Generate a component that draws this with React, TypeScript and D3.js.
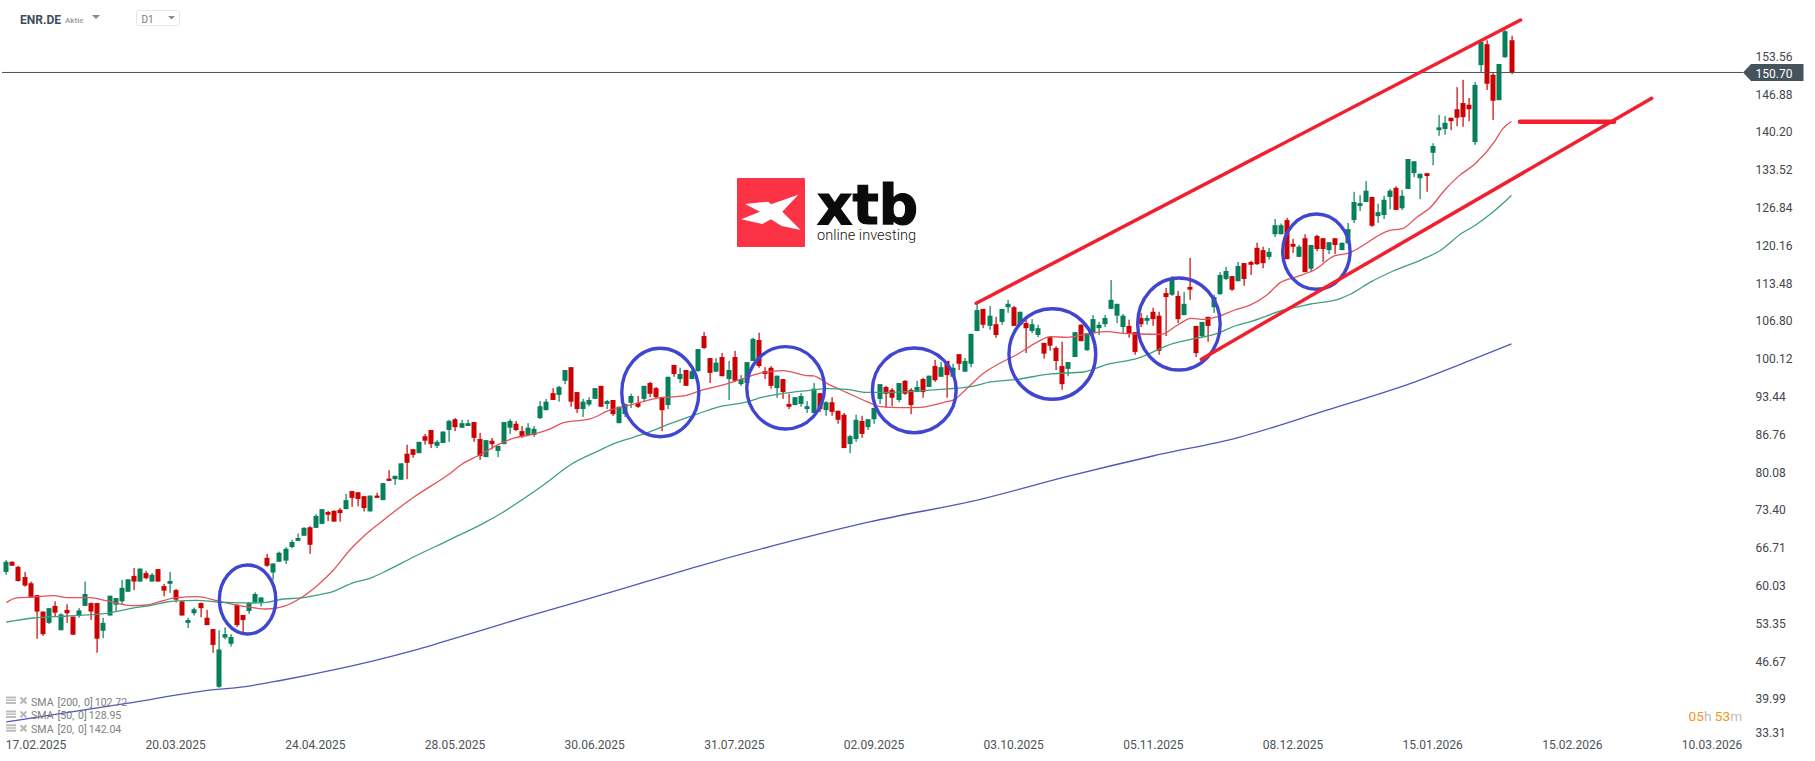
import * as d3 from 'd3'
import * as React from 'react'

const WIDTH = 1815
const HEIGHT = 761
const FONT = 'Roboto, sans-serif'

const opens = [
  62.4,64.2,63.3,61.5,60.4,58.3,55.4,53.4,56.4,52.1,
  55.7,54.5,54.7,56.4,56.9,56.9,52.0,54.7,56.6,57.2,
  58.9,61.7,60.7,62.2,60.7,62.9,59.9,60.3,59.2,57.2,
  53.4,55.1,56.9,54.3,52.3,42.1,50.8,49.7,56.6,54.8,
  55.5,57.0,57.0,64.9,62.3,64.2,64.4,66.8,67.9,68.8,
  70.3,70.2,70.9,73.0,73.2,73.4,73.5,76.7,76.5,75.8,
  73.1,75.9,75.1,78.9,78.8,78.7,83.3,84.1,83.4,86.4,
  87.5,84.7,85.2,87.5,89.4,87.9,88.2,88.9,85.9,82.7,
  85.6,83.8,85.0,87.9,88.6,87.3,86.6,86.6,89.6,91.0,
  94.0,93.7,96.2,98.6,94.2,91.2,92.0,93.0,95.3,92.1,
  92.8,88.7,90.3,92.3,92.3,93.0,95.8,94.9,93.3,91.9,
  99.0,96.5,98.1,96.5,97.9,104.1,100.2,97.8,100.4,96.5,
  100.4,95.6,95.8,99.7,103.4,97.9,98.5,94.9,96.5,92.1,
  91.9,92.1,91.2,90.5,94.0,91.0,92.4,90.9,90.2,85.0,
  85.9,89.1,88.0,89.4,93.0,95.1,94.6,92.8,96.2,94.6,
  94.2,96.5,95.1,98.8,96.9,99.7,96.9,100.9,97.8,99.2,
  105.0,108.9,105.9,106.2,106.6,109.2,109.2,106.1,106.4,105.0,
  104.3,102.9,103.9,102.0,98.8,98.3,100.4,106.1,101.6,104.6,
  105.5,106.2,108.9,107.7,105.7,105.9,104.8,107.3,106.8,108.4,
  107.7,111.7,111.4,111.2,107.8,112.8,105.9,104.1,107.5,109.2,
  111.5,114.2,114.7,113.8,117.0,117.2,119.7,119.3,118.1,122.1,
  122.1,124.6,120.4,118.1,121.4,116.0,121.8,121.4,119.3,121.4,
  119.3,120.5,124.6,127.1,127.8,128.7,125.3,125.5,128.7,130.3,
  126.7,130.1,132.9,132.0,132.9,136.5,140.5,140.7,142.7,144.2,
  145.3,145.0,138.4,152.0,155.7,150.3,145.8,153.4,156.4,
]

const closes = [
  64.2,63.5,60.8,60.0,57.9,55.4,51.4,56.0,55.2,54.9,
  55.1,51.3,55.6,58.5,55.4,50.6,53.4,58.2,57.8,59.6,
  61.1,60.7,63.0,61.3,61.9,60.7,59.1,60.8,57.5,54.7,
  53.9,55.8,56.0,53.0,49.5,48.7,51.4,50.9,53.0,53.9,
  56.9,58.5,57.9,63.5,63.9,65.8,66.5,67.7,68.4,70.2,
  67.2,72.3,73.5,72.5,71.3,72.8,75.1,75.5,75.3,73.7,
  75.9,75.5,78.1,78.5,79.4,81.6,81.7,83.1,85.4,85.6,
  85.0,85.4,87.2,89.1,88.0,88.7,88.7,86.1,82.9,85.7,
  85.0,84.7,88.9,89.1,87.5,86.3,87.9,87.7,91.7,92.5,
  92.8,95.1,98.1,92.5,91.2,92.5,92.8,94.9,91.6,92.6,
  90.3,91.6,92.1,93.5,91.6,95.3,93.9,93.3,91.0,96.9,
  97.4,97.4,95.3,97.9,101.8,102.0,97.6,99.4,97.0,98.1,
  96.2,96.5,99.5,103.6,98.8,97.4,95.3,97.1,94.2,91.6,
  93.3,93.5,91.7,94.8,91.2,92.4,90.7,89.3,84.3,86.4,
  89.3,86.8,89.4,91.4,95.6,93.9,93.2,95.8,93.9,91.9,
  95.1,94.2,97.1,96.3,98.6,97.2,98.5,99.2,99.7,104.5,
  108.7,106.1,107.7,104.3,108.9,109.8,105.9,108.4,105.5,106.2,
  105.5,101.0,102.4,99.7,95.6,99.5,104.8,103.2,104.6,107.1,
  106.1,107.3,110.5,109.8,107.7,104.6,101.3,106.2,107.3,107.1,
  101.5,111.0,114.0,107.1,109.8,112.3,101.1,106.6,105.9,111.0,
  114.9,115.6,112.3,116.5,114.2,116.7,116.8,117.0,119.0,123.7,
  123.7,117.7,119.9,119.9,115.4,120.2,119.5,119.5,120.7,120.2,
  120.6,123.0,127.8,127.6,129.8,123.6,126.0,128.2,129.8,126.4,
  128.9,135.4,135.0,132.8,132.4,137.7,141.0,141.8,142.1,142.7,
  142.8,144.2,148.5,156.1,148.7,145.7,152.2,158.0,150.7,
]

const highs = [
  64.5,64.3,63.5,62.4,60.7,58.3,55.4,56.0,57.2,55.1,
  56.7,54.5,56.0,60.7,57.0,56.9,54.3,58.2,57.8,61.0,
  61.1,63.1,63.0,62.6,62.2,62.9,60.3,62.4,59.4,57.3,
  54.3,56.1,57.0,55.7,52.3,52.1,52.6,51.4,56.7,54.8,
  57.1,58.8,57.9,65.6,63.9,66.0,66.8,68.1,69.2,70.3,
  70.5,72.6,73.5,73.2,73.3,73.7,76.2,76.7,76.5,75.8,
  75.9,76.4,78.1,80.4,79.4,81.6,84.9,84.1,85.4,86.8,
  87.5,85.7,87.3,89.3,89.6,89.3,89.3,88.9,87.0,85.7,
  86.1,84.7,88.9,89.4,89.1,88.2,88.7,88.2,92.6,93.0,
  94.9,95.3,98.1,98.6,94.2,93.0,93.3,94.9,95.3,92.8,
  92.8,91.7,92.1,93.9,93.5,95.3,96.0,95.1,93.3,96.9,
  99.0,98.5,98.1,98.3,101.8,104.8,100.2,100.2,101.1,99.7,
  101.5,97.2,99.5,103.8,104.7,98.6,98.8,97.1,96.5,93.9,
  93.3,94.0,92.6,95.8,94.0,92.6,93.3,90.9,90.5,86.6,
  90.2,90.0,89.4,91.4,95.6,95.3,94.9,95.8,96.3,94.9,
  96.2,96.7,97.1,99.9,99.5,99.7,99.2,100.9,100.2,104.5,
  110.1,108.9,109.4,107.5,108.9,110.5,109.4,108.4,106.9,107.1,
  106.1,102.9,104.1,102.3,103.1,99.5,104.8,106.2,104.6,107.8,
  106.6,107.8,114.0,109.8,108.0,107.0,104.8,108.2,107.8,109.1,
  108.4,112.6,114.7,112.1,111.9,117.9,105.9,106.6,107.5,111.4,
  115.4,116.3,114.7,117.2,117.0,117.4,120.6,119.9,119.7,124.8,
  124.0,125.0,121.3,120.2,122.1,120.2,122.0,121.4,120.7,121.4,
  120.6,124.1,129.6,129.0,131.5,128.7,127.5,128.9,130.1,130.6,
  129.9,135.4,135.0,132.8,132.9,138.2,143.2,143.0,142.7,148.1,
  149.4,146.2,149.0,156.4,156.4,150.6,152.2,158.2,157.2,
]

const lows = [
  61.9,63.5,60.7,59.8,57.9,50.6,51.1,53.2,54.6,52.1,
  53.4,51.3,54.3,56.4,53.9,48.1,50.7,54.7,55.4,56.7,
  58.9,59.2,60.7,61.1,60.7,60.7,58.1,58.7,57.0,54.7,
  52.5,54.7,54.4,53.0,48.1,41.9,50.5,49.2,52.7,51.8,
  55.0,57.0,56.3,63.3,61.0,64.2,63.8,66.6,67.9,68.8,
  65.6,70.2,70.9,71.4,71.3,71.3,73.5,73.9,74.0,73.1,
  73.1,75.5,75.1,78.5,77.8,78.7,78.8,82.6,83.4,84.9,
  84.3,84.3,85.2,85.4,87.3,87.9,88.2,85.4,82.2,82.7,
  84.1,82.7,85.0,86.8,87.3,86.1,86.4,86.3,89.4,91.0,
  92.8,92.5,95.6,91.6,90.5,89.8,91.7,93.0,91.6,91.2,
  90.0,88.7,89.8,91.4,91.4,92.5,93.3,93.0,87.3,91.2,
  96.9,95.8,95.3,96.5,97.8,101.8,95.8,97.8,97.0,92.8,
  96.0,95.3,95.6,99.7,98.5,96.5,94.8,93.2,93.0,91.2,
  91.9,91.6,90.5,90.5,90.7,90.0,90.0,88.6,84.3,83.4,
  85.4,86.1,87.5,88.6,92.1,91.4,91.7,92.4,93.7,90.3,
  94.2,93.2,95.1,96.0,96.9,93.2,96.9,98.1,97.8,98.6,
  105.0,105.5,105.2,103.8,106.1,108.2,105.9,106.1,101.1,104.6,
  103.9,100.1,101.5,98.1,94.6,97.0,100.4,103.2,101.5,104.3,
  104.3,105.7,108.9,106.4,104.6,103.8,100.8,105.7,106.1,105.9,
  100.8,104.1,111.2,106.4,107.8,110.5,100.4,103.8,103.1,108.2,
  111.4,114.0,112.1,113.8,113.0,114.9,116.7,116.1,117.6,121.6,
  122.1,117.7,118.8,118.1,115.4,115.4,119.1,117.2,118.6,118.6,
  119.3,120.5,124.1,126.2,127.8,123.4,124.1,124.8,126.5,126.4,
  126.4,130.1,132.2,128.3,129.6,134.3,139.5,139.7,140.5,141.2,
  141.1,142.1,137.9,150.8,147.6,142.3,145.8,153.3,150.4,
]

// moving averages at a few candle positions
const sma20Index = [0,1.7,4.5,7.8,10,13.8,16.6,21,23.2,25.4,28.1,31.4,34.7,37.4,40.7,42.9,45.7,48.5,51.2,53.9,56.6,58.8,61.8,67.1,73.2,75.1,78,81.3,83.5,86.3,89.6,91.8,96.2,99.5,102.2,104.9,107.7,111.6,114.3,118.7,122,124.7,128,131.9,133,135.2,138.5,141.8,144,147.3,150.6,154.5,156.1,158.3,161,163.7,166.4,170,172,174.8,178.6,181.4,184.1,186.9,190.2,193,195.2,197.4,199.6,202.4,205,207.7,209.9,212.7,215.5,218.8,221,228,230,232.5,234.5,237,239.2,242.1,245.2,246.6,248]
const sma20Values = [56.97,57.8,57.97,58.21,57.86,57.86,57.27,56.44,56.56,57.21,57.86,58.03,57.33,56.68,56.09,55.85,56.32,57.8,59.98,62.75,66.28,68.64,71.29,75.59,79.9,81.49,83.08,85.03,86.03,86.62,87.68,88.8,89.45,91.04,91.74,92.51,93.22,93.51,94.43,95.63,96.81,97.7,97.99,97.11,97.05,95.75,94.1,92.51,91.63,91.45,91.51,92.39,92.81,94.87,97.52,99.29,100.76,103.12,104,103.88,104.59,104.88,104.59,104.47,104.41,106.06,107.24,107.06,107.53,108.71,109.6,111.36,113.55,114.61,115.78,118.26,118.73,122.8,123.09,125.21,126.69,129.93,132.29,134.64,138.47,140.83,142.04]

const sma50Index = [0,4.5,10,16.6,21,23.7,26.4,28.1,31.4,34.7,37.4,40.7,42.9,45.7,48.5,50.8,53.9,57.2,59.9,62.7,67.1,73.2,78.6,81.3,84.1,88.5,92.9,97.9,100,103.3,106.1,108.8,114.3,117.1,121.5,124.8,128.1,132,135.3,138.5,141.8,145.1,150.1,155,158.9,162.2,166.6,172,177.5,181.4,186.4,192.3,195.2,199.6,202.4,205,210.5,214.9,219.9,221.5,224.9,228.5,233.3,236.4,239.8,242.1,244.9,248]
const sma50Values = [53.55,54.26,54.61,55.08,56.03,56.44,57.09,57.27,57.39,57.09,56.97,56.91,57.03,57.62,57.8,58.21,58.97,60.51,61.27,62.63,65.05,68.17,71,72.59,74.54,77.78,81.32,83.97,85.03,86.21,87.21,88.39,90.5,91.51,92.33,93.34,93.98,94.46,94.81,94.69,94.16,94.16,94.4,94.75,95.16,95.99,96.46,97.4,97.75,99.11,100.17,102.82,103.53,104.59,105.88,106.65,108.71,109.77,110.78,111.54,113.72,115.6,117.67,119.32,122.27,123.74,125.98,128.95]

const sma200Index = [0,19.8,34.7,38,45.6,53.9,67,71.5,85.7,99.9,114.1,128.3,142.4,160.5,174.7,188.9,203.1,217.3,231.4,241.1,248]
const sma200Values = [35.88,39.17,41.65,41.95,43.3,45.07,48.49,49.89,54.49,58.91,63.45,67.57,71.28,75.24,79.24,82.9,86.21,90.91,95.75,99.75,102.72]

// hand drawn circles on the chart: candle span and price span
const circleLeft = [35.1,101.4,122,142.7,165.2,186.4,210.3]
const circleRight = [44.4,114.1,134.8,156.5,179.5,200,221.4]
const circleTop = [63.63,101.94,102.23,102,108.94,114.37,125.68]
const circleBottom = [51.43,86.31,87.67,87.02,92.92,98.1,112.37]

// hand drawn trend lines: candle position and price at both ends
const trendFromIndex = [159.8,196.9,249.4]
const trendFromPrice = [109.9,100,142]
const trendToIndex = [249.5,271.1,264.9]
const trendToPrice = [159.98,146.14,142]

const priceTicks = ['153.56','146.88','140.20','133.52','126.84','120.16','113.48','106.80','100.12','93.44','86.76','80.08','73.40','66.71','60.03','53.35','46.67','39.99','33.31']
const dateTicks = ['17.02.2025','20.03.2025','24.04.2025','28.05.2025','30.06.2025','31.07.2025','02.09.2025','03.10.2025','05.11.2025','08.12.2025','15.01.2026','15.02.2026','10.03.2026']
const legendLabels = ['SMA  [200,  0] 102.72','SMA  [50,  0] 128.95','SMA  [20,  0] 142.04']
const lastPrice = 150.7

const x = d3.scaleLinear().domain([0, opens.length - 1]).range([6.33, 1511.5])
const y = d3.scaleLinear().domain([153.56, 33.31]).range([56.3, 736.5])
const dateX = d3.scalePoint<string>().domain(dateTicks).range([36, 1712])

const UP = '#067f5b'
const DOWN = '#cc0202'

export default function App() {
  const ref = React.useRef<SVGSVGElement>(null)

  React.useEffect(() => {
    const svg = d3.select(ref.current!)
    svg.selectAll('*').remove()

    // Header
    const head = svg.append('g').attr('font-family', FONT)
    head.append('text').attr('x', 20).attr('y', 23.5).attr('font-size', 12).attr('font-weight', 700).attr('fill', '#3f4d57').text('ENR.DE')
    head.append('text').attr('x', 65).attr('y', 23).attr('font-size', 8).attr('font-weight', 500).attr('fill', '#999').text('Aktie')
    head.append('path').attr('d', 'M92 15h8l-4 4z').attr('fill', '#8b8b8b')
    head.append('rect').attr('x', 136.5).attr('y', 10.5).attr('width', 43).attr('height', 15).attr('rx', 2).attr('fill', '#fff').attr('stroke', '#e6e6e6')
    head.append('text').attr('x', 141.5).attr('y', 23).attr('font-size', 10).attr('fill', '#777').text('D1')
    head.append('path').attr('d', 'M168 16h7l-3.5 3.5z').attr('fill', '#8b8b8b')

    // Logo
    const logo = svg.append('g')
    logo.append('rect').attr('x', 737).attr('y', 178).attr('width', 68).attr('height', 69).attr('rx', 1).attr('fill', '#fb3345')
    logo.append('path')
      .attr('transform', 'translate(700,160) scale(0.3333)')
      .attr('d', 'M135 132L205 125L213 133L295 104L247 155L302 210L245 198L213 178L187 192L124 178L180 155Z')
      .attr('fill', '#fff')
    logo.append('text').attr('x', 817).attr('y', 223.5).attr('font-family', '"DejaVu Sans"').attr('font-weight', 700).attr('font-size', 55).attr('textLength', 101).attr('lengthAdjust', 'spacingAndGlyphs').attr('fill', '#0b0b0b').attr('stroke', '#0b0b0b').attr('stroke-width', 1.2).text('xtb')
    logo.append('text').attr('x', 817).attr('y', 240).attr('font-family', FONT).attr('font-weight', 300).attr('font-size', 14.5).attr('textLength', 99).attr('fill', '#111').text('online investing')

    // Candles
    const candles = svg.append('g')
      .selectAll('g')
      .data(opens.map((open, i) => ({ i, open, close: closes[i], high: highs[i], low: lows[i] })))
      .enter()
      .append('g')
      .attr('fill', d => (d.close >= d.open ? UP : DOWN))
    candles.append('rect')
      .attr('x', d => Math.round(x(d.i)) - 0.5)
      .attr('width', 1.2)
      .attr('y', d => y(d.high))
      .attr('height', d => y(d.low) - y(d.high))
    candles.append('rect')
      .attr('x', d => Math.round(x(d.i)) - 2.5)
      .attr('width', 5)
      .attr('y', d => y(Math.max(d.open, d.close)))
      .attr('height', d => Math.abs(y(d.open) - y(d.close)))

    // Moving averages
    const sma = (index: number[], values: number[], color: string, width: number) => {
      const line = d3.line<number>().x((_, i) => x(index[i])).y(d => y(d)).curve(d3.curveMonotoneX)
      svg.append('path').attr('d', line(values)).attr('fill', 'none').attr('stroke', color).attr('stroke-width', width)
    }
    sma(sma20Index, sma20Values, '#e4525a', 1.3)
    sma(sma50Index, sma50Values, '#3f9f80', 1.3)
    sma(sma200Index, sma200Values, '#5158b8', 1.3)

    // Last price line and tag
    svg.append('line').attr('x1', 2).attr('x2', 1743).attr('y1', y(lastPrice)).attr('y2', y(lastPrice)).attr('stroke', '#44535c').attr('stroke-width', 1)

    // Circles
    svg.append('g').selectAll('ellipse').data(circleLeft).enter().append('ellipse')
      .attr('cx', (d, i) => (x(d) + x(circleRight[i])) / 2)
      .attr('cy', (_, i) => (y(circleTop[i]) + y(circleBottom[i])) / 2)
      .attr('rx', (d, i) => (x(circleRight[i]) - x(d)) / 2)
      .attr('ry', (_, i) => (y(circleBottom[i]) - y(circleTop[i])) / 2)
      .attr('fill', 'none').attr('stroke', '#4046cf').attr('stroke-width', 3.4)

    // Trend lines
    svg.append('g').selectAll('line').data(trendFromIndex).enter().append('line')
      .attr('x1', d => x(d))
      .attr('y1', (_, i) => y(trendFromPrice[i]))
      .attr('x2', (_, i) => x(trendToIndex[i]))
      .attr('y2', (_, i) => y(trendToPrice[i]))
      .attr('stroke', '#f2202e')
      .attr('stroke-width', (_, i) => (i === 2 ? 4.5 : 3.5))
      .attr('stroke-linecap', 'round')

    // Price axis
    svg.append('g').selectAll('text').data(priceTicks).enter().append('text')
      .attr('x', 1755.5)
      .attr('y', d => Math.min(y(+d), 732) + 4.6)
      .attr('font-family', FONT).attr('font-size', 12).attr('fill', '#3f464c')
      .text(d => d)
    svg.append('path')
      .attr('d', d3.line()([[1743, y(lastPrice)], [1751, y(lastPrice) - 8.5], [1803.5, y(lastPrice) - 8.5], [1803.5, y(lastPrice) + 8.5], [1751, y(lastPrice) + 8.5]]) + 'Z')
      .attr('fill', '#45535c')
    svg.append('text').attr('x', 1755.5).attr('y', y(lastPrice) + 5.4)
      .attr('font-family', FONT).attr('font-size', 12).attr('fill', '#fff').text(lastPrice.toFixed(2))

    // Date axis
    svg.append('g').selectAll('text').data(dateTicks).enter().append('text')
      .attr('x', d => dateX(d)!)
      .attr('y', 748.5)
      .attr('text-anchor', 'middle')
      .attr('font-family', FONT).attr('font-size', 12).attr('fill', '#4c5358')
      .text(d => d)

    // Indicator legend
    const legend = svg.append('g').selectAll('g').data(legendLabels).enter().append('g')
      .attr('transform', (_, i) => `translate(0,${i * 13.9})`)
    legend.append('path').attr('d', 'M6 696.5h10v2h-10zM6 699.5h10v1.5h-10zM6 702h10v2h-10z').attr('fill', '#bcbcbc')
    legend.append('path').attr('d', 'M20.5 697.5l6 6M26.5 697.5l-6 6').attr('stroke', '#b5b5b5').attr('stroke-width', 2)
    legend.append('text').attr('x', 31).attr('y', 705.5)
      .attr('font-family', FONT).attr('font-size', 10.6).attr('word-spacing', -0.7).attr('fill', '#808080')
      .style('white-space', 'pre')
      .text(d => d)

    // Session countdown
    const timer = svg.append('text').attr('x', 1688.5).attr('y', 721).attr('font-family', FONT).attr('font-size', 13.7)
    timer.append('tspan').attr('fill', '#f7941d').text('05')
    timer.append('tspan').attr('fill', '#bdbdbd').text('h ')
    timer.append('tspan').attr('fill', '#f7941d').text('53')
    timer.append('tspan').attr('fill', '#bdbdbd').text('m')
  }, [])

  return (
    <svg
      ref={ref}
      width={WIDTH}
      height={HEIGHT}
      style={{ position: 'absolute', left: 0, top: 0, display: 'block', background: '#fff' }}
    />
  )
}
